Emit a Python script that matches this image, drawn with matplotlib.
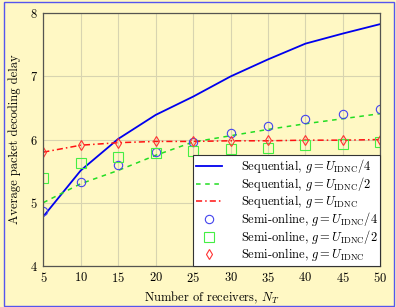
import matplotlib
matplotlib.use("Agg")
import matplotlib.pyplot as plt
from matplotlib.patches import Rectangle

plt.rcParams["font.family"] = "serif"
plt.rcParams["font.serif"] = ["cmr10", "DejaVu Serif"]
plt.rcParams["mathtext.fontset"] = "cm"
plt.rcParams["axes.unicode_minus"] = False
plt.rcParams["axes.formatter.use_mathtext"] = True

BG = "#FFF8C4"

# data
receivers = [5, 10, 15, 20, 25, 30, 35, 40, 45, 50]
seq_quarter = [4.78, 5.51, 6.01, 6.39, 6.68, 7.00, 7.27, 7.52, 7.68, 7.83]
seq_half = [5.00, 5.30, 5.51, 5.75, 5.96, 6.06, 6.16, 6.25, 6.33, 6.41]
seq_full = [5.80, 5.91, 5.95, 5.97, 5.97, 5.98, 5.98, 5.99, 5.99, 6.00]
semi_quarter = [4.87, 5.33, 5.59, 5.80, 5.96, 6.11, 6.22, 6.33, 6.41, 6.49]
semi_half = [5.39, 5.63, 5.72, 5.78, 5.82, 5.85, 5.87, 5.91, 5.93, 5.96]
semi_full = [5.80, 5.92, 5.95, 5.97, 5.98, 5.98, 5.99, 5.99, 6.00, 6.00]

labels = [
    r"Sequential, $g=U_{\mathrm{IDNC}}/4$",
    r"Sequential, $g=U_{\mathrm{IDNC}}/2$",
    r"Sequential, $g=U_{\mathrm{IDNC}}$",
    r"Semi-online, $g=U_{\mathrm{IDNC}}/4$",
    r"Semi-online, $g=U_{\mathrm{IDNC}}/2$",
    r"Semi-online, $g=U_{\mathrm{IDNC}}$",
]

fig = plt.figure(figsize=(3.96, 3.07), dpi=100, facecolor=BG)
ax = fig.add_axes([0.1094, 0.1345, 0.851, 0.822])
ax.set_facecolor(BG)

# blue frame around the figure
fig.patches.append(Rectangle((3.5 / 396, 1.5 / 307), 390 / 396, 304 / 307,
                             transform=fig.transFigure, fill=False,
                             edgecolor="#5555EE", lw=1.0))

ax.plot(receivers, seq_quarter, "-", color="#0000EE", lw=1.3, label=labels[0])
ax.plot(receivers, seq_half, "--", color="#22DD22", lw=1.1, dashes=(3, 3), label=labels[1])
ax.plot(receivers, seq_full, "-.", color="#FF1111", lw=1.1, dashes=(4, 2, 1, 2), label=labels[2])
ax.plot(receivers, semi_quarter, "o", ms=6, mfc="none", mec="#4444EE", mew=0.8, label=labels[3])
ax.plot(receivers, semi_half, "s", ms=6.5, mfc="none", mec="#44EE44", mew=0.8, label=labels[4])
ax.plot(receivers, semi_full, "d", ms=5.5, mfc="none", mec="#FF3333", mew=0.8, label=labels[5])

ax.set_xlim(5, 50)
ax.set_ylim(4, 8)
ax.set_xticks(range(5, 51, 5))
ax.set_yticks([4, 5, 6, 7, 8])
ax.grid(True, color="#D8D4B0", lw=0.8)
ax.set_axisbelow(True)
ax.tick_params(direction="in", length=0, labelsize=9, pad=4)
for s in ax.spines.values():
    s.set_color("#555550")
    s.set_linewidth(0.9)

ax.set_xlabel(r"Number of receivers, $N_T$", fontsize=9, labelpad=3)
ax.set_ylabel("Average packet decoding delay", fontsize=9, labelpad=6)

leg = ax.legend(loc="lower right", fontsize=9, frameon=True, fancybox=False,
                edgecolor="#333333", facecolor="white", framealpha=1,
                borderaxespad=0, handlelength=2.1, labelspacing=0.0,
                borderpad=0.2, handletextpad=1.5)
leg.get_frame().set_linewidth(0.8)

fig.savefig("out.png", dpi=100, facecolor=BG)
